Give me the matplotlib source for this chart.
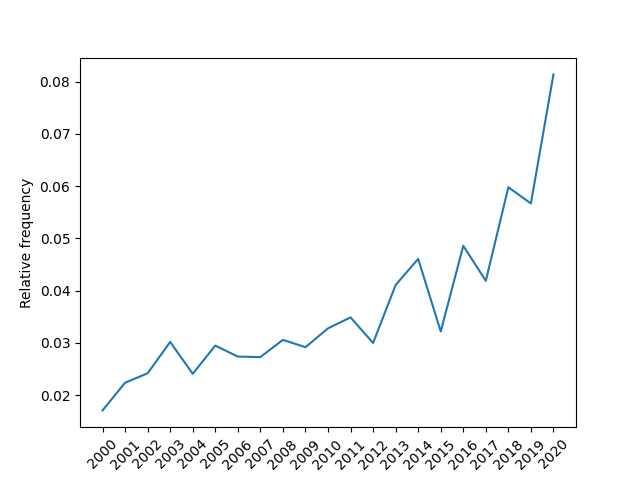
import matplotlib
matplotlib.use("Agg")
import matplotlib.pyplot as plt

years = [str(y) for y in range(2000, 2021)]
freq = [0.0171, 0.0224, 0.0242, 0.0302, 0.0241, 0.0295, 0.0274, 0.0273, 0.0306, 0.0292,
        0.0328, 0.0349, 0.0300, 0.0411, 0.0461, 0.0322, 0.0486, 0.0419, 0.0598, 0.0567, 0.0814]

fig, ax = plt.subplots(figsize=(6.4, 4.8), dpi=100)
ax.plot(years, freq)
ax.set_ylabel("Relative frequency")
plt.xticks(rotation=45)
fig.savefig("out.png")
